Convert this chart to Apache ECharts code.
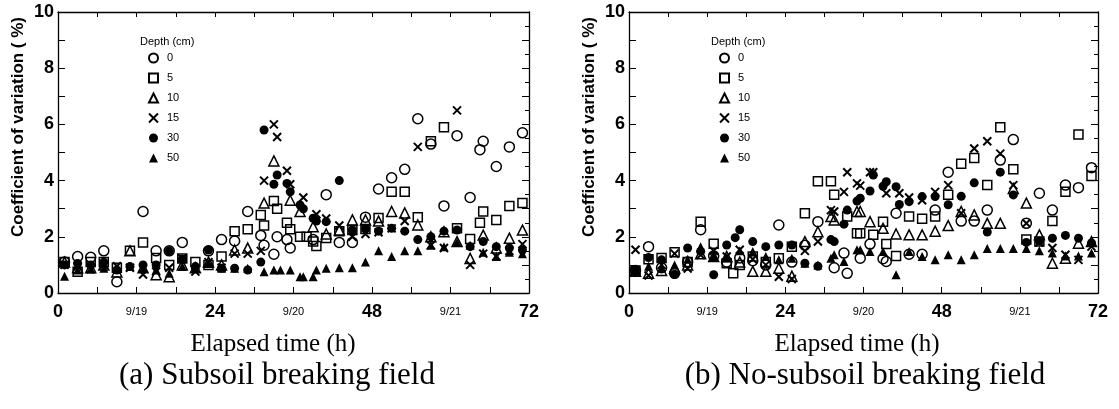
<!DOCTYPE html>
<html>
<head>
<meta charset="utf-8">
<title>Coefficient of variation</title>
<script src="https://cdn.jsdelivr.net/npm/echarts/dist/echarts.min.js"></script>
<style>
    html, body { margin: 0; padding: 0; background: #fff; }
    #main { width: 1119px; height: 409px; }
</style>
</head>
<body>
<div id="main"></div>
<script type="text/javascript">
// depths (cm) shown in the legend
var depths = ['0', '5', '10', '15', '30', '50'];
// x tick labels (elapsed hours -> label)
var xTickHours = [0, 12, 24, 36, 48, 60, 72];
var xTickText = ['0', '9/19', '24', '9/20', '48', '9/21', '72'];
var yTickValues = [0, 2, 4, 6, 8, 10];
var captions = ['(a) Subsoil breaking field', '(b) No-subsoil breaking field'];

// (a) subsoil breaking field: [elapsed h, CV %]
var a0 = [[1,1.1],[3,1.3],[5,1.27],[7,1.5],[9,0.4],[13,2.9],[15,1.5],[17,1.5],[19,1.8],[23,1.5],[25,1.9],[27,1.85],[29,2.9],[31,2.05],[31.5,1.7],[33,1.38],[33.5,2.0],[35,1.9],[35.5,1.6],[39,1.9],[41,3.5],[43,1.8],[45,1.8],[47,2.7],[49,3.7],[51,4.1],[53,4.4],[55,6.2],[57,5.3],[59,3.1],[61,5.6],[63,3.4],[64.5,5.1],[65,5.4],[67,4.5],[69,5.2],[71,5.7]];
var a5 = [[1,1.1],[3,0.76],[5,1.1],[7,1.1],[9,0.9],[11,1.5],[13,1.8],[15,1.25],[17,1.0],[19,1.23],[21,1.1],[23,1.0],[25,1.3],[27,2.2],[29,2.27],[31,2.78],[31.5,2.4],[33,3.27],[33.5,3.0],[35,2.5],[35.5,2.27],[37,2.0],[38,2.0],[39,1.83],[39.5,1.67],[41,1.96],[43,2.2],[45,2.24],[47,2.28],[49,2.67],[51,3.6],[53,3.6],[55,2.7],[57,5.4],[59,5.9],[61,2.3],[63,1.92],[64.5,2.5],[65,2.9],[67,2.6],[69,3.1],[71,3.2]];
var a10 = [[1,1.1],[3,0.9],[5,0.9],[7,1.0],[9,0.75],[11,1.5],[13,0.9],[15,0.65],[17,0.58],[19,1.0],[21,0.9],[23,1.1],[25,1.0],[27,1.53],[29,1.6],[31.5,3.2],[33,4.7],[35.5,3.3],[37,2.9],[39,2.36],[41,2.1],[43,2.24],[45,2.6],[47,2.6],[49,2.56],[51,2.9],[53,2.85],[55,2.42],[57,2.0],[59,2.18],[61,1.83],[63,1.23],[65,2.06],[67,1.6],[69,1.95],[71,2.24]];
var a15 = [[1,1.0],[3,0.95],[5,0.85],[7,1.0],[9,0.95],[11,0.9],[13,0.66],[15,0.76],[17,0.9],[19,1.23],[21,0.76],[23,1.1],[25,0.9],[27,1.4],[29,1.4],[31,1.5],[31.5,4.0],[33,6.0],[33.5,5.55],[35,4.35],[35.5,3.87],[37.5,3.4],[39.5,2.8],[41,2.65],[43,2.4],[45,2.0],[47,2.1],[49,2.16],[51,2.3],[53,2.56],[55,5.2],[57,1.7],[59,1.6],[61,6.5],[63,1.0],[65,1.4],[67,1.3],[69,1.5],[71,1.74]];
var a30 = [[1,1.0],[3,1.05],[5,1.0],[7,1.1],[9,0.82],[11,0.94],[13,1.0],[15,1.0],[17,1.5],[19,1.2],[21,0.94],[23,1.53],[25,0.88],[27,0.88],[29,0.82],[31,1.1],[31.5,5.8],[33,3.87],[33.5,4.2],[35,3.9],[35.5,3.6],[37,3.13],[37.5,3.0],[39,2.66],[39.5,2.56],[41,2.54],[43,4.0],[45,2.24],[47,2.3],[49,2.2],[51,2.3],[53,2.2],[55,1.9],[57,2.0],[59,2.2],[61,2.24],[63,1.65],[65,1.83],[67,1.65],[69,1.6],[71,1.53]];
var a50 = [[1,0.6],[3,0.82],[5,0.85],[7,0.88],[9,0.88],[11,0.94],[13,0.88],[15,0.82],[17,0.7],[19,0.94],[21,0.88],[23,1.05],[25,0.88],[27,0.88],[29,0.88],[31.5,0.76],[33,0.82],[34,0.82],[35.5,0.82],[37,0.58],[37.5,0.58],[39,0.58],[39.5,0.82],[41,0.88],[43,0.9],[45,0.9],[47,1.1],[49,1.5],[51,1.3],[53,1.5],[55,1.5],[57,1.7],[59,1.65],[61,1.8],[63,1.7],[65,1.45],[67,1.3],[69,1.45],[71,1.4]];

// (b) no-subsoil breaking field: [elapsed h, CV %]
var b0 = [[1,0.8],[3,1.65],[5,0.9],[7,0.7],[9,1.1],[11,2.25],[13,1.32],[15,1.1],[17,1.25],[19,1.15],[21,1.0],[23,2.42],[25,1.1],[27,1.7],[29,2.54],[31.5,0.9],[33,1.42],[33.5,0.7],[35.5,1.24],[37,1.74],[39,1.22],[39.5,1.12],[41,2.84],[43,1.38],[45,1.38],[47,2.95],[49,4.3],[51,2.56],[53,2.56],[55,2.95],[57,4.73],[59,5.46],[61,2.48],[63,3.55],[65,2.95],[67,3.84],[69,3.75],[71,4.46]];
var b5 = [[1,0.8],[3,1.2],[5,1.25],[7,1.45],[9,1.1],[11,2.54],[13,1.75],[15,1.06],[16,0.7],[17,1.0],[19,1.3],[21,1.1],[23,1.24],[25,1.65],[27,2.84],[29,3.98],[31,3.98],[31.5,3.5],[33.5,2.72],[35,2.13],[35.5,2.13],[37.5,2.07],[39,2.54],[39.5,1.74],[41,1.32],[43,2.72],[45,2.64],[47,2.72],[49,3.5],[51,4.6],[53,4.8],[55,3.84],[57,5.9],[59,4.4],[61,1.9],[63,1.83],[65,2.56],[67,3.6],[69,5.64],[71,4.16]];
var b10 = [[1,0.77],[3,0.7],[5,0.8],[7,0.88],[9,1.0],[11,1.4],[13,1.3],[15,1.3],[17,1.1],[19,0.77],[21,0.77],[23,0.88],[25,0.6],[27,1.83],[29,2.18],[31,2.72],[31.5,2.6],[35,2.9],[35.5,2.9],[37,2.54],[39,2.3],[41,2.1],[43,2.07],[45,2.07],[47,2.2],[49,2.4],[51,2.9],[53,2.78],[55,2.48],[57,2.48],[59,3.72],[61,3.2],[63,2.07],[65,1.06],[67,1.24],[69,1.77],[71,1.83]];
var b15 = [[1,1.54],[3,0.62],[5,1.0],[7,1.4],[9,0.87],[11,1.35],[13,1.5],[15,1.3],[17,1.54],[19,1.2],[21,1.0],[23,0.58],[25,0.5],[27,1.5],[29,1.83],[31,2.95],[31.5,2.9],[33,3.6],[33.5,4.3],[35,3.9],[35.5,3.82],[37,4.3],[37.5,4.3],[39.5,3.55],[41.5,3.55],[43,3.4],[45,3.3],[47,3.6],[49,3.84],[51,2.84],[53,5.14],[55,5.4],[57,4.96],[59,3.84],[61,2.48],[63,1.8],[65,1.6],[67,1.36],[69,1.18],[71,1.65]];
var b30 = [[1,0.83],[3,1.26],[5,1.18],[7,0.67],[9,1.6],[11,1.48],[13,0.65],[15,1.71],[16.3,1.97],[17,2.25],[19,1.83],[21,1.65],[23,1.71],[25,1.71],[27,1.06],[29,0.95],[31,1.9],[31.5,1.83],[33,2.45],[33.5,2.95],[35,3.27],[35.5,3.37],[37,3.63],[37.5,4.2],[39,3.8],[39.5,3.96],[41,3.78],[41.5,3.15],[43,3.25],[45,3.43],[47,3.43],[49,3.14],[51,3.44],[53,3.92],[55,2.17],[57,4.3],[59,3.49],[61,1.8],[63,1.85],[65,1.95],[67,2.05],[69,1.95],[71,1.78]];
var b50 = [[1,0.8],[3,0.95],[5,0.9],[7,1.0],[9,1.2],[11,1.65],[13,1.3],[15,1.25],[17,1.5],[19,1.48],[21,1.3],[23,1.18],[25,1.24],[27,1.06],[29,1.0],[31,1.24],[31.5,1.36],[33,1.12],[35,1.54],[35.5,1.54],[37,1.48],[39,1.48],[41,0.65],[43,1.48],[45,1.3],[47,1.18],[49,1.36],[51,1.18],[53,1.36],[55,1.58],[57,1.58],[59,1.58],[61,1.58],[63,1.5],[65,1.42],[67,1.32],[69,1.32],[71,1.42]];

var panelA = [a0, a5, a10, a15, a30, a50];
var panelB = [b0, b5, b10, b15, b30, b50];

var SANS = 'Liberation Sans, Arial, sans-serif';
var SERIF = 'Liberation Serif, Times New Roman, serif';

// marker look per depth: open circle, open square, open triangle, cross, dot, filled triangle
var marks = [
    { symbol: 'circle', size: 10, fill: 'transparent', bw: 1.5 },
    { symbol: 'rect', size: 9, fill: 'transparent', bw: 1.5 },
    { symbol: 'triangle', size: 10, fill: 'transparent', bw: 1.5 },
    { symbol: 'path://M0,0L10,10M10,0L0,10', size: 8, fill: 'transparent', bw: 2 },
    { symbol: 'circle', size: 9, fill: '#000', bw: 0 },
    { symbol: 'triangle', size: 9, fill: '#000', bw: 0 }
];

var chart = echarts.init(document.getElementById('main'));

function xLabel(v) {
    var i = xTickHours.indexOf(v);
    if (i < 0) return '';
    var s = xTickText[i];
    return s.indexOf('/') >= 0 ? '{s|' + s + '}' : '{b|' + s + '}';
}

function yLabel(v) {
    return yTickValues.indexOf(v) >= 0 ? String(v) : '';
}

var grids = [
    { left: 58, top: 12, width: 471, height: 281 },
    { left: 629, top: 12, width: 469, height: 281 }
];
// centres of the text under each panel
var nameX = [273, 857];
var captionX = [277, 865];

var frameLine = { show: true, onZero: false, lineStyle: { color: '#000', width: 1.3 } };
var xAxes = [], yAxes = [], series = [], legends = [], graphics = [];

grids.forEach(function(g, gi) {
    xAxes.push({
        gridIndex: gi, type: 'value', min: 0, max: 72, interval: 6, position: 'bottom',
        axisLine: frameLine,
        axisTick: { inside: true, length: 6, lineStyle: { color: '#000' } },
        splitLine: { show: false },
        axisLabel: {
            margin: 10, formatter: xLabel, color: '#000',
            rich: {
                b: { fontSize: 18, fontWeight: 'bold', fontFamily: SANS, color: '#000' },
                s: { fontSize: 11, fontFamily: SANS, color: '#000', padding: [3, 0, 0, 0] }
            }
        }
    });
    xAxes.push({
        gridIndex: gi, type: 'value', min: 0, max: 72, interval: 6, position: 'top',
        axisLine: frameLine,
        axisTick: { inside: true, length: 5, lineStyle: { color: '#000' } },
        axisLabel: { show: false }, splitLine: { show: false }
    });
    yAxes.push({
        gridIndex: gi, type: 'value', min: 0, max: 10, interval: 1, position: 'left',
        axisLine: frameLine,
        axisTick: { show: true, inside: true, length: 7, lineStyle: { color: '#000' } },
        splitLine: { show: false },
        axisLabel: { formatter: yLabel, fontSize: 18, fontWeight: 'bold', fontFamily: SANS, color: '#000', margin: 4 }
    });
    yAxes.push({
        gridIndex: gi, type: 'value', min: 0, max: 10, interval: 1, position: 'right',
        axisLine: frameLine,
        axisTick: { show: true, inside: true, length: 7, lineStyle: { color: '#000' } },
        minorTick: { show: true, splitNumber: 2, length: 4, lineStyle: { color: '#000' } },
        axisLabel: { show: false }, splitLine: { show: false }
    });

    var sets = gi === 0 ? panelA : panelB;
    sets.forEach(function(d, k) {
        var m = marks[k];
        series.push({
            name: depths[k], type: 'scatter',
            xAxisIndex: gi * 2, yAxisIndex: gi * 2,
            data: d,
            symbol: m.symbol, symbolSize: m.size,
            itemStyle: { color: m.fill, borderColor: '#000', borderWidth: m.bw, opacity: 1 },
            emphasis: { disabled: true }
        });
    });

    legends.push({
        orient: 'vertical', left: g.left + 90, top: 52, padding: 0,
        itemWidth: 9, itemHeight: 9, itemGap: 8, selectedMode: false,
        data: depths,
        textStyle: { fontSize: 11, fontFamily: SANS, color: '#000', lineHeight: 12, padding: [0, 0, 0, 4] }
    });

    graphics.push({
        type: 'text', x: g.left + 82, y: 42,
        style: { text: 'Depth (cm)', font: '11px ' + SANS, fill: '#000', textAlign: 'left', textVerticalAlign: 'middle' }
    });
    graphics.push({
        type: 'text', x: g.left - 40, y: 127, rotation: Math.PI / 2,
        style: { text: 'Coefficient of variation ( %)', font: 'bold 17px ' + SANS, fill: '#000', textAlign: 'center', textVerticalAlign: 'middle' }
    });
    graphics.push({
        type: 'text', x: nameX[gi], y: 344,
        style: { text: 'Elapsed time (h)', font: '25px ' + SERIF, fill: '#000', textAlign: 'center', textVerticalAlign: 'middle' }
    });
    graphics.push({
        type: 'text', x: captionX[gi], y: 376,
        style: { text: captions[gi], font: '31px ' + SERIF, fill: '#000', textAlign: 'center', textVerticalAlign: 'middle' }
    });
});

chart.setOption({
    backgroundColor: '#fff',
    animation: false,
    grid: grids,
    xAxis: xAxes,
    yAxis: yAxes,
    legend: legends,
    series: series,
    graphic: graphics
});
</script>
</body>
</html>
